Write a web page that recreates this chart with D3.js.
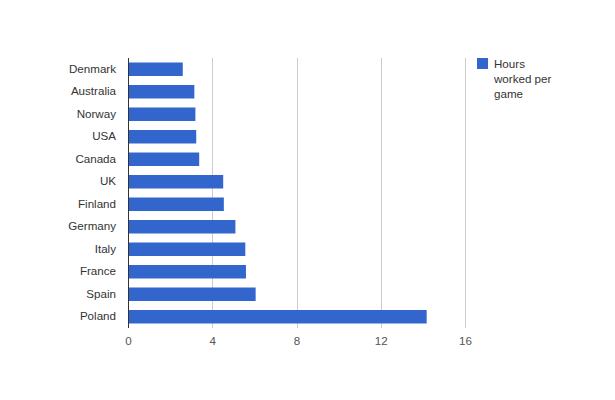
<!DOCTYPE html>
<html><head><meta charset="utf-8">
<script src="https://cdn.jsdelivr.net/npm/d3@7"></script>
<style>body{margin:0;background:#fff;}svg{display:block;font-family:Arial,"Liberation Sans",sans-serif;}</style>
</head><body>
<svg id="chart" width="615" height="400"></svg>
<script>
const categories = ["Denmark","Australia","Norway","USA","Canada","UK","Finland","Germany","Italy","France","Spain","Poland"];
const hoursWorked = [2.6,3.15,3.2,3.24,3.38,4.52,4.55,5.1,5.57,5.6,6.06,14.18];
const xTicks = [0,4,8,12,16];
const seriesName = ["Hours","worked per","game"];

const svg = d3.select("#chart");
const m = {left:128, top:58, right:465, bottom:328};
const x = d3.scaleLinear().domain([0,16]).range([m.left, m.right]);
const y = d3.scaleBand().domain(categories).range([m.top, m.bottom]).paddingInner(0.4).paddingOuter(0.2);
const fs = 11.6;

// gridlines
svg.append("g").selectAll("line").data(xTicks.filter(d=>d>0)).join("line")
  .attr("x1",d=>Math.round(x(d))+0.5).attr("x2",d=>Math.round(x(d))+0.5)
  .attr("y1",m.top).attr("y2",m.bottom).attr("stroke","#cccccc");

// bars
svg.append("g").selectAll("rect").data(categories).join("rect")
  .attr("x",x(0)).attr("y",d=>y(d)).attr("height",y.bandwidth())
  .attr("width",(d,i)=>x(hoursWorked[i])-x(0)).attr("fill","#3366cc");

// baseline
svg.append("line").attr("x1",x(0)+0.5).attr("x2",x(0)+0.5).attr("y1",m.top).attr("y2",m.bottom)
  .attr("stroke","#333333");

// y labels
const yAxis = d3.axisLeft(y).tickSize(0).tickPadding(12);
const gy = svg.append("g").attr("transform",`translate(${x(0)},0)`).call(yAxis);
gy.select(".domain").remove();
gy.selectAll("text").attr("font-size",fs).attr("fill","#333333").attr("font-family","Arial,'Liberation Sans',sans-serif");

// x labels
const xAxis = d3.axisBottom(x).tickValues(xTicks).tickSize(0).tickPadding(9);
const gx = svg.append("g").attr("transform",`translate(0,${m.bottom})`).call(xAxis);
gx.select(".domain").remove();
gx.selectAll("text").attr("font-size",fs).attr("fill","#555555").attr("font-family","Arial,'Liberation Sans',sans-serif");

// legend
const lg = svg.append("g");
lg.append("rect").attr("x",477).attr("y",58).attr("width",11).attr("height",11).attr("fill","#3366cc");
lg.selectAll("text").data(seriesName).join("text")
  .attr("x",494).attr("y",(d,i)=>68+i*15).attr("font-size",fs).attr("fill","#333333").text(d=>d);
</script>
</body></html>
